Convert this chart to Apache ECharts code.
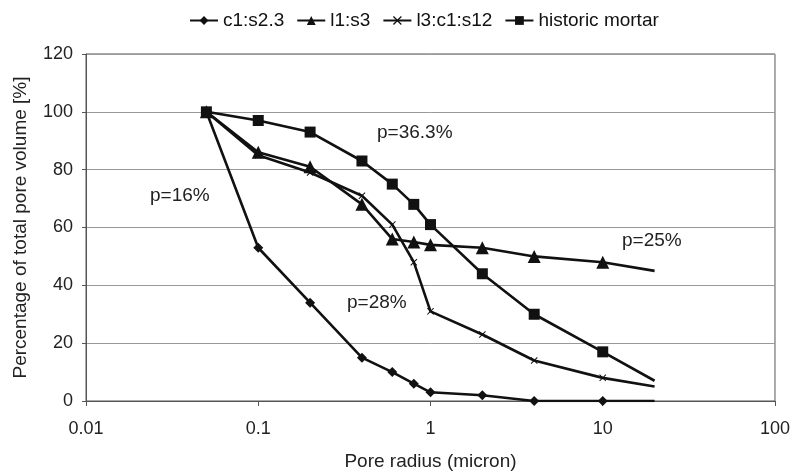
<!DOCTYPE html>
<html>
<head>
<meta charset="utf-8">
<script src="https://cdn.jsdelivr.net/npm/echarts@6/dist/echarts.min.js"></script>
<style>
  html, body { margin: 0; padding: 0; background: #fff; }
  #chart { width: 793px; height: 476px; }
</style>
</head>
<body>
<div id="chart"></div>
<script>
// pore radius (micron), shared by all four curves
const radius = [0.05, 0.1, 0.2, 0.4, 0.6, 0.8, 1, 2, 4, 10, 20]
const c1s23 = [100, 53, 34, 15, 10, 6, 3, 2, 0, 0, 0]
const l1s3 = [100, 86, 81, 68, 56, 55, 54, 53, 50, 48, 45]
const l3c1s12 = [100, 85, 79, 71, 61, 48, 31, 23, 14, 8, 5]
const historic = [100, 97, 93, 83, 75, 68, 61, 44, 30, 17, 7]
const seriesNames = ['c1:s2.3', 'l1:s3', 'l3:c1:s12', 'historic mortar']
const xTicks = [0.01, 0.1, 1, 10, 100]
// porosity notes written next to the curves
const notes = ['p=16%', 'p=36.3%', 'p=28%', 'p=25%']

const FONT = 'Liberation Sans, Arial, sans-serif'
const crossPath = 'path://M0,1L1,0L5,4L9,0L10,1L6,5L10,9L9,10L5,6L1,10L0,9L4,5Z'

function build(name, vals, symbol, size) {
  return {
    name, type: 'line', symbol, symbolSize: size,
    data: vals.map((v, i) => ({
      value: [radius[i], v],
      // last point has no marker in the original
      symbol: i === vals.length - 1 ? 'none' : symbol
    })),
    lineStyle: { color: '#111', width: 2.6 },
    itemStyle: { color: '#111' },
    z: 3
  }
}

function note(text, x, y) {
  return { type: 'text', x, y, style: { text, font: '19px ' + FONT, fill: '#222', verticalAlign: 'middle' } }
}

const chart = echarts.init(document.getElementById('chart'))
chart.setOption({
  animation: false,
  textStyle: { fontFamily: FONT },
  legend: {
    top: 6, left: 184,
    itemWidth: 28, itemHeight: 11, itemGap: 12,
    textStyle: { fontSize: 19, color: '#111', fontFamily: FONT },
    data: seriesNames
  },
  grid: { left: 86, right: 17, top: 54, bottom: 72, show: true, borderColor: '#555', borderWidth: 1 },
  xAxis: {
    type: 'log', logBase: 10, min: xTicks[0], max: xTicks[xTicks.length - 1],
    name: 'Pore radius (micron)', nameLocation: 'middle', nameGap: 51,
    nameTextStyle: { fontSize: 19, color: '#222', fontFamily: FONT },
    axisLine: { lineStyle: { color: '#555' } },
    axisTick: { show: true, length: 5, lineStyle: { color: '#555' } },
    minorTick: { show: false },
    splitLine: { show: false },
    axisLabel: { fontSize: 18, color: '#222', margin: 19, formatter: v => String(v) }
  },
  yAxis: {
    type: 'value', min: 0, max: 120, interval: 20,
    name: 'Percentage of total pore volume [%]', nameLocation: 'middle', nameGap: 56,
    nameTextStyle: { fontSize: 19, color: '#222', fontFamily: FONT },
    axisLine: { show: true, lineStyle: { color: '#555' } },
    axisTick: { show: true, length: 4, lineStyle: { color: '#555' } },
    splitLine: { lineStyle: { color: '#999', width: 1 } },
    axisLabel: { fontSize: 18, color: '#222', margin: 13 }
  },
  series: [
    build(seriesNames[0], c1s23, 'diamond', 10),
    build(seriesNames[1], l1s3, 'triangle', 13),
    build(seriesNames[2], l3c1s12, crossPath, 7),
    build(seriesNames[3], historic, 'rect', 11)
  ],
  graphic: [
    note(notes[0], 150, 196),
    note(notes[1], 377, 133),
    note(notes[2], 347, 303),
    note(notes[3], 622, 241)
  ]
})
</script>
</body>
</html>
